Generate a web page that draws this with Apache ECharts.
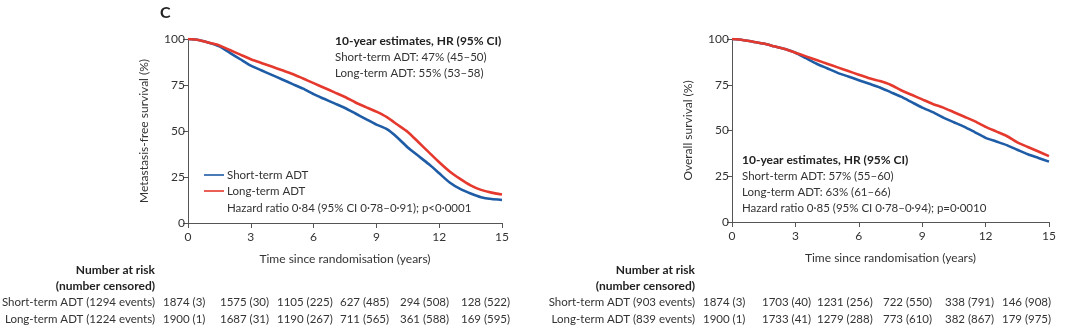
<!DOCTYPE html>
<html>
<head>
<meta charset="utf-8">
<script src="https://cdn.jsdelivr.net/npm/echarts@6/dist/echarts.min.js"></script>
<style>
html,body{margin:0;padding:0;background:#fff;}
#c{width:1080px;height:332px;}
</style>
</head>
<body>
<div id="c"></div>
<script>
// ---- data ----
const years = [0,0.5,1,1.5,2,2.5,3,3.5,4,4.5,5,5.5,6,6.5,7,7.5,8,8.5,9,9.5,10,10.5,11,11.5,12,12.5,13,13.5,14,14.5,15];
const mfsShort = [100,99.5,98,96,92.5,89,85.5,83,80.5,78,75.5,73,70,67.5,65,62.5,59.5,56.5,53.5,51,46.5,41,36.5,32,27,22,18.5,16,14,13,12.5];
const mfsLong  = [100,99.5,98,96.5,94,91.5,89,87,85,83,81,78.5,76,73.5,71,68.5,65.5,63,60.5,57.5,53.5,49.5,44,38.5,33,28,24,20.5,18,16.5,15.5];
const osShort  = [100,99.5,98.5,97.5,96,94.5,92.5,89.5,86.5,84,81.5,79.5,77.5,75.5,73.5,71,68.5,65.5,62.5,60,57,54.5,52,49,46,44,42,39.5,37,35,33];
const osLong   = [100,99.5,98.5,97.5,96,94.5,92.5,90.5,88.5,86.5,84.5,82.5,80.5,78.5,77,75,72,69.5,67,64.5,62.5,60,57.5,55,52,49.5,47,43.5,41,38.5,36];
const seriesNames = ['Short-term ADT','Long-term ADT'];
const mfsRowLabels = ['Short-term ADT (1294 events)','Long-term ADT (1224 events)'];
const osRowLabels  = ['Short-term ADT (903 events)','Long-term ADT (839 events)'];
const riskMfsShort = ['1874 (3)','1575 (30)','1105 (225)','627 (485)','294 (508)','128 (522)'];
const riskMfsLong  = ['1900 (1)','1687 (31)','1190 (267)','711 (565)','361 (588)','169 (595)'];
const riskOsShort  = ['1874 (3)','1703 (40)','1231 (256)','722 (550)','338 (791)','146 (908)'];
const riskOsLong   = ['1900 (1)','1733 (41)','1279 (288)','773 (610)','382 (867)','179 (975)'];
const mfsNotes = ['10-year estimates, HR (95% CI)','Short-term ADT: 47% (45–50)','Long-term ADT: 55% (53–58)'];
const mfsHR = 'Hazard ratio 0·84 (95% CI 0·78–0·91); p<0·0001';
const osNotes = ['10-year estimates, HR (95% CI)','Short-term ADT: 57% (55–60)','Long-term ADT: 63% (61–66)','Hazard ratio 0·85 (95% CI 0·78–0·94); p=0·0010'];

// ---- styling / layout ----
const BLUE = '#1f5ca6', RED = '#e5392e', TXT = '#333333', AX = '#555555';
const FONT = 'Lato, "Open Sans", sans-serif';
const FS = 11.5;
const fnt = (s, w) => (w || 'normal') + ' ' + s + 'px ' + FONT;
const leftCols = [163,220,277,340,400,461];
const rightCols = [703,762,817,883,945,1002];

function pairs(xs, ys){ return xs.map((x,i)=>[x, ys[i]]); }

function xAxisCfg(gi){
  return {
    gridIndex: gi, type:'value', min:0, max:15, interval:3,
    name:'Time since randomisation (years)', nameLocation:'middle', nameGap:30,
    nameTextStyle:{color:TXT, fontSize:12, fontFamily:FONT},
    axisLine:{show:true, lineStyle:{color:AX, width:1}},
    axisTick:{show:true, length:5, lineStyle:{color:AX}},
    axisLabel:{color:TXT, fontSize:12, fontFamily:FONT, margin:8},
    splitLine:{show:false}
  };
}
function yAxisCfg(gi, name){
  return {
    gridIndex: gi, type:'value', min:0, max:100, interval:25,
    name:name, nameLocation:'middle', nameGap:38, nameRotate:90,
    nameTextStyle:{color:TXT, fontSize:12, fontFamily:FONT},
    axisLine:{show:true, lineStyle:{color:AX, width:1}},
    axisTick:{show:true, length:5, lineStyle:{color:AX}},
    axisLabel:{color:TXT, fontSize:12, fontFamily:FONT, margin:3},
    splitLine:{show:false}
  };
}
function lineSeries(name, gi, ys, color){
  return {
    name:name, type:'line', xAxisIndex:gi, yAxisIndex:gi,
    data: pairs(years, ys), showSymbol:false, symbol:'none', smooth:0.2,
    lineStyle:{color:color, width:2.6}, itemStyle:{color:color}, silent:true, animation:false
  };
}

function text(x, y, str, opts){
  opts = opts || {};
  return {type:'text', x:x, y:y, silent:true,
    style:{text:str, fill:opts.fill||TXT, font:opts.font||fnt(FS), align:opts.align||'left', verticalAlign:'middle'}};
}

const graphics = [];
graphics.push(text(160, 13, 'C', {font:fnt(16,'bold'), fill:'#222'}));
mfsNotes.forEach((s,i)=>graphics.push(text(335, 41+16*i, s, {font: i===0?fnt(12,'bold'):fnt(FS), fill: i===0?'#222':TXT})));
[BLUE, RED].forEach((c,i)=>{
  graphics.push({type:'line', silent:true, shape:{x1:204, y1:175+16*i, x2:224, y2:175+16*i}, style:{stroke:c, lineWidth:1.6}});
  graphics.push(text(227, 175+16*i, seriesNames[i]));
});
graphics.push(text(227, 208, mfsHR));
osNotes.forEach((s,i)=>graphics.push(text(742, 160+16*i, s, {font: i===0?fnt(12,'bold'):fnt(FS), fill: i===0?'#222':TXT})));

function riskTable(rightEdge, cols, rowLabels, rowA, rowB){
  graphics.push(text(rightEdge, 270, 'Number at risk', {align:'right', font:fnt(12,'bold'), fill:'#222'}));
  graphics.push(text(rightEdge, 286, '(number censored)', {align:'right', font:fnt(12,'bold'), fill:'#222'}));
  [rowA, rowB].forEach((row, r)=>{
    const y = 302 + 17*r;
    graphics.push(text(rightEdge, y, rowLabels[r], {align:'right'}));
    row.forEach((v,k)=>graphics.push(text(cols[k], y, v)));
  });
}
riskTable(155, leftCols, mfsRowLabels, riskMfsShort, riskMfsLong);
riskTable(695, rightCols, osRowLabels, riskOsShort, riskOsLong);

const chart = echarts.init(document.getElementById('c'), null, {renderer:'canvas'});
chart.setOption({
  animation:false,
  backgroundColor:'#ffffff',
  grid:[
    {left:188, top:39, width:314, height:184},
    {left:732, top:39, width:317, height:183}
  ],
  xAxis:[xAxisCfg(0), xAxisCfg(1)],
  yAxis:[yAxisCfg(0,'Metastasis-free survival (%)'), yAxisCfg(1,'Overall survival (%)')],
  series:[
    lineSeries(seriesNames[0], 0, mfsShort, BLUE),
    lineSeries(seriesNames[1], 0, mfsLong, RED),
    lineSeries(seriesNames[0], 1, osShort, BLUE),
    lineSeries(seriesNames[1], 1, osLong, RED)
  ],
  graphic: graphics
});
</script>
</body>
</html>
